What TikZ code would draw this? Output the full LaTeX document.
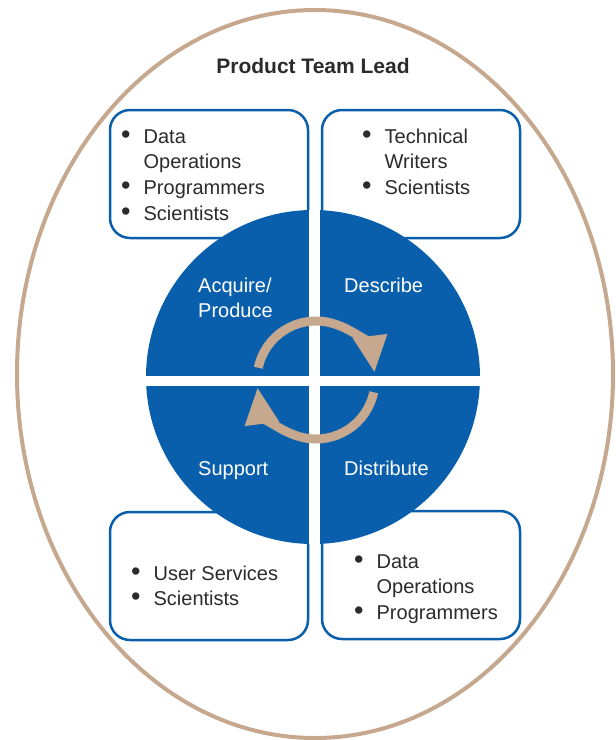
\documentclass[tikz,border=0pt]{standalone}
\usepackage{fontspec}
\setmainfont{Liberation Sans}
\usetikzlibrary{arrows.meta}
\definecolor{bl}{HTML}{0A5FAD}
\definecolor{tn}{HTML}{C5A88E}
\definecolor{tx}{HTML}{2B2B2B}
\newcommand{\itm}{{\fontsize{27}{26}\selectfont\textbullet}}

\begin{document}
\begin{tikzpicture}[x=1pt,y=-1pt]
          \tikzstyle{every node}=[font=\fontsize{20}{25.7}\selectfont,inner sep=0pt]
          \tikzstyle{box}=[draw=bl,line width=2.5pt,rounded corners=20pt,fill=white,minimum width=198pt,minimum height=128pt]
          \tikzstyle{lst}=[anchor=base west,text=tx]
          \tikzstyle{lbl}=[anchor=base west,text=white]
          \tikzstyle{cyc}=[color=tn,line width=9pt,-{Triangle[length=37pt,width=32pt]}]
          \useasboundingbox (0,0) rectangle (616,740);
          \draw[color=tn,line width=4pt] (315,374) ellipse [x radius=298, y radius=364];
          \node[font=\fontsize{21}{25}\selectfont\bfseries,anchor=base,text=tx] (lead) at (313,73) {Product Team Lead};
          \node[box] (acqbox) at (209,174) {};
          \node[box] (desbox) at (421,174) {};
          \node[box] (supbox) at (209,576) {};
          \node[box] (disbox) at (421,575) {};
          \fill[bl] (313,377) circle (167);
          \begin{scope}
            \clip (313,377) circle (167);
            \draw[white,line width=11pt] (314.5,200) -- (314.5,560);
            \draw[white,line width=10pt] (130,381) -- (500,381);
          \end{scope}
          \node[lst] (acqlist) at (121,143) {\begin{tabular}[t]{@{}l@{\hspace{13pt}}l@{}}\itm & Data\\ & Operations\\ \itm & Programmers\\ \itm & Scientists\end{tabular}};
          \node[lst] (deslist) at (362,143) {\begin{tabular}[t]{@{}l@{\hspace{13pt}}l@{}}\itm & Technical\\ & Writers\\ \itm & Scientists\end{tabular}};
          \node[lst] (suplist) at (131,580) {\begin{tabular}[t]{@{}l@{\hspace{13pt}}l@{}}\itm & User Services\\ \itm & Scientists\end{tabular}};
          \node[lst] (dislist) at (354,568) {\begin{tabular}[t]{@{}l@{\hspace{13pt}}l@{}}\itm & Data\\ & Operations\\ \itm & Programmers\end{tabular}};
          \node[lbl] (acq) at (198,292) {\begin{tabular}[t]{@{}l@{}}Acquire/\\Produce\end{tabular}};
          \node[lbl] (des) at (344,292) {Describe};
          \node[lbl] (sup) at (198,475) {Support};
          \node[lbl] (dis) at (344,475) {Distribute};
          \draw[cyc] (316,380) ++(192:59) arc[start angle=192, end angle=353, radius=59];
          \draw[cyc] (316,380) ++(12:59) arc[start angle=12, end angle=173, radius=59];
        \end{tikzpicture}
\end{document}
